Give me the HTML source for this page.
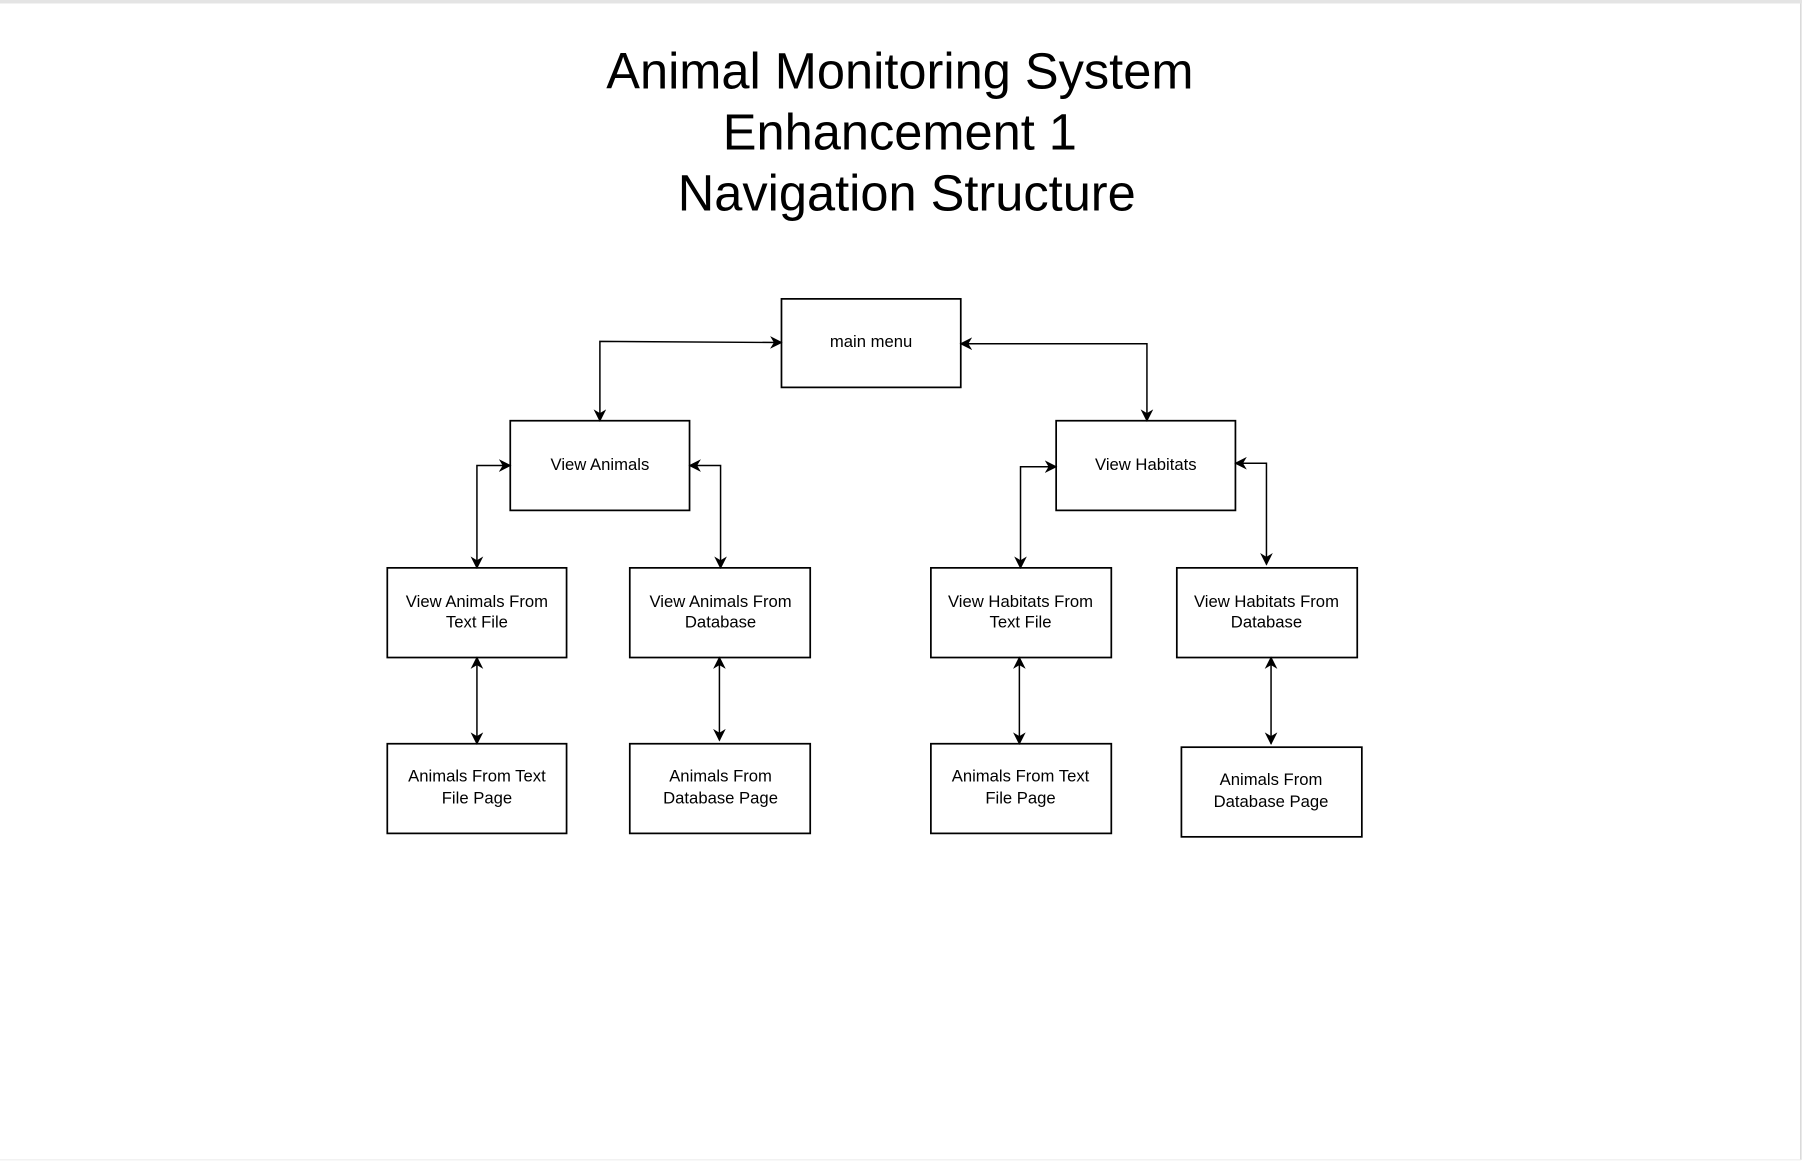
<!DOCTYPE html>
<html><head><style>html,body{margin:0;padding:0;background:#fff;}svg{display:block}</style></head>
<body>
<svg width="1802" height="1161" viewBox="0 0 1568 1010" preserveAspectRatio="none" xmlns="http://www.w3.org/2000/svg" font-family="Liberation Sans, Arial, sans-serif">
<defs>
<marker id="a" viewBox="0 0 10 10" refX="9" refY="5" markerWidth="11" markerHeight="11" orient="auto-start-reverse" markerUnits="userSpaceOnUse">
<path d="M0,0 L10,5 L0,10 L3,5 z" fill="#000"/></marker>
</defs>
<rect x="0" y="0" width="1568" height="1010" fill="#fff"/>
<rect x="0" y="0" width="1568" height="3" fill="#e4e4e4"/>
<line x1="1567" y1="3" x2="1567" y2="1009" stroke="#ccc"/>
<line x1="0" y1="1009" x2="1567" y2="1009" stroke="#eee"/>
<g font-size="44" text-anchor="middle" fill="#000">
<text x="783" y="77">Animal Monitoring System</text>
<text x="783" y="130">Enhancement 1</text>
<text x="789" y="183">Navigation Structure</text>
</g>
<g fill="none" stroke="#000" stroke-width="1.5">
<rect x="680" y="260" width="156" height="77"/>
<rect x="444" y="366" width="156" height="78"/>
<rect x="919" y="366" width="156" height="78"/>
<rect x="337" y="494" width="156" height="78"/>
<rect x="548" y="494" width="157" height="78"/>
<rect x="810" y="494" width="157" height="78"/>
<rect x="1024" y="494" width="157" height="78"/>
<rect x="337" y="647" width="156" height="78"/>
<rect x="548" y="647" width="157" height="78"/>
<rect x="810" y="647" width="157" height="78"/>
<rect x="1028" y="650" width="157" height="78"/>
</g>
<g fill="none" stroke="#000" stroke-width="1.3" marker-start="url(#a)" marker-end="url(#a)">
<polyline points="522,366 522,297 680,298"/>
<polyline points="836,299 998,299 998,366"/>
<polyline points="444,405 415,405 415,494"/>
<polyline points="600,405 627,405 627,494"/>
<polyline points="919,406 888,406 888,494"/>
<polyline points="1075,403 1102,403 1102,491"/>
<line x1="415" y1="572" x2="415" y2="647"/>
<line x1="626" y1="572" x2="626" y2="644"/>
<line x1="887" y1="572" x2="887" y2="647"/>
<line x1="1106" y1="572" x2="1106" y2="647"/>
</g>
<g font-size="14.5" text-anchor="middle" fill="#000">
<text x="758" y="302">main menu</text>
<text x="522" y="409">View Animals</text>
<text x="997" y="409">View Habitats</text>
<text x="415" y="528">View Animals From</text><text x="415" y="546">Text File</text>
<text x="627" y="528">View Animals From</text><text x="627" y="546">Database</text>
<text x="888" y="528">View Habitats From</text><text x="888" y="546">Text File</text>
<text x="1102" y="528">View Habitats From</text><text x="1102" y="546">Database</text>
<text x="415" y="680">Animals From Text</text><text x="415" y="699">File Page</text>
<text x="627" y="680">Animals From</text><text x="627" y="699">Database Page</text>
<text x="888" y="680">Animals From Text</text><text x="888" y="699">File Page</text>
<text x="1106" y="683">Animals From</text><text x="1106" y="702">Database Page</text>
</g>
</svg>
</body></html>
